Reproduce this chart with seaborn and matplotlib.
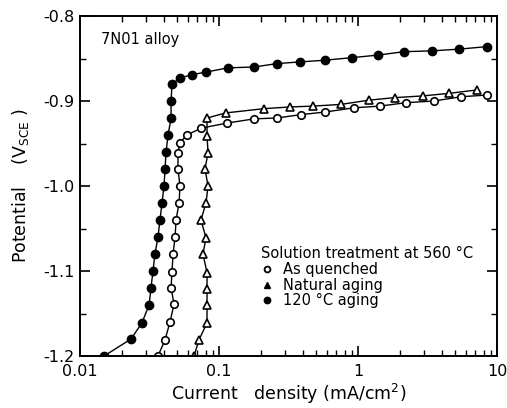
import numpy as np
import pandas as pd
import matplotlib
matplotlib.use("Agg")
import matplotlib.pyplot as plt
import seaborn as sns
from matplotlib.lines import Line2D
from matplotlib.ticker import LogLocator, FixedLocator, MultipleLocator, FixedFormatter

# ---- data (current density mA/cm2, potential V_SCE) ----
aged120_i = [0.0149, 0.0233, 0.0279, 0.0314, 0.0324, 0.0335, 0.0346, 0.0364, 0.0376, 0.0389,
             0.0402, 0.0409, 0.0416, 0.0430, 0.0452, 0.0452, 0.0459, 0.0524, 0.0639, 0.0806,
             0.116, 0.179, 0.261, 0.383, 0.579, 0.905, 1.39, 2.14, 3.41, 5.33, 8.48]
aged120_v = [-1.200, -1.180, -1.161, -1.140, -1.120, -1.100, -1.080, -1.060, -1.040, -1.020,
             -1.000, -0.980, -0.960, -0.940, -0.920, -0.900, -0.880, -0.873, -0.869, -0.866,
             -0.861, -0.860, -0.856, -0.854, -0.852, -0.849, -0.846, -0.842, -0.841, -0.839, -0.836]

quench_i = [0.0364, 0.0409, 0.0444, 0.0475, 0.0452, 0.0459, 0.0467, 0.0483, 0.0491, 0.0516,
            0.0524, 0.0507, 0.0507, 0.0524, 0.0589, 0.0742, 0.114, 0.179, 0.261, 0.39,
            0.579, 0.936, 1.44, 2.21, 3.52, 5.51, 8.48]
quench_v = [-1.200, -1.181, -1.160, -1.139, -1.120, -1.101, -1.080, -1.060, -1.040, -1.020,
            -1.000, -0.980, -0.961, -0.949, -0.940, -0.932, -0.926, -0.921, -0.920, -0.916,
            -0.913, -0.908, -0.906, -0.902, -0.900, -0.895, -0.893]

natural_i = [0.0661, 0.0718, 0.0820, 0.0820, 0.0820, 0.0820, 0.0767, 0.0806, 0.0742, 0.0806,
             0.0834, 0.0793, 0.0834, 0.0820, 0.0820, 0.112, 0.211, 0.324, 0.475, 0.755,
             1.20, 1.85, 2.94, 4.52, 7.18]
natural_v = [-1.200, -1.181, -1.161, -1.140, -1.121, -1.102, -1.080, -1.061, -1.040, -1.020,
             -1.000, -0.980, -0.961, -0.941, -0.920, -0.914, -0.909, -0.907, -0.906, -0.904,
             -0.899, -0.896, -0.894, -0.891, -0.887]

series_labels = ["As quenched", "Natural aging", "120 °C aging"]
x_ticks = [0.01, 0.1, 1, 10]
x_tick_labels = ["0.01", "0.1", "1", "10"]
y_ticks = [-1.2, -1.1, -1.0, -0.9, -0.8]
y_tick_labels = ["-1.2", "-1.1", "-1.0", "-0.9", "-0.8"]

df = pd.concat([
    pd.DataFrame({"i": quench_i, "v": quench_v, "s": series_labels[0]}),
    pd.DataFrame({"i": natural_i, "v": natural_v, "s": series_labels[1]}),
    pd.DataFrame({"i": aged120_i, "v": aged120_v, "s": series_labels[2]}),
], ignore_index=True)

sns.set_style("ticks")
plt.rcParams["font.family"] = ["DejaVu Sans"]
plt.rcParams["axes.unicode_minus"] = False
plt.rcParams["mathtext.default"] = "regular"
for k in ["text.color", "axes.labelcolor", "xtick.color", "ytick.color", "axes.edgecolor"]:
    plt.rcParams[k] = "black"

fig = plt.figure(figsize=(5.07, 4.08), dpi=100)
ax = fig.add_axes([80/507, 1-356/408, 417/507, 340/408])

styles = {
    series_labels[0]: dict(marker="o", mfc="white", ms=5.4),
    series_labels[1]: dict(marker="^", mfc="white", ms=5.2),
    series_labels[2]: dict(marker="o", mfc="black", ms=5.8),
}
for lab in series_labels:
    sub = df[df["s"] == lab]
    st = styles[lab]
    sns.lineplot(data=sub, x="i", y="v", sort=False, estimator=None, ax=ax,
                 color="black", lw=1.0, marker=st["marker"], markersize=st["ms"],
                 markerfacecolor=st["mfc"], markeredgecolor="black", markeredgewidth=1.2,
                 legend=False)

ax.set_xscale("log")
ax.set_xlim(0.01, 10)
ax.set_ylim(-1.2, -0.8)
ax.xaxis.set_major_locator(FixedLocator(x_ticks))
ax.xaxis.set_major_formatter(FixedFormatter(x_tick_labels))
ax.xaxis.set_minor_locator(LogLocator(base=10, subs=np.arange(2, 10)))
ax.xaxis.set_minor_formatter(matplotlib.ticker.NullFormatter())
ax.yaxis.set_major_locator(FixedLocator(y_ticks))
ax.yaxis.set_major_formatter(FixedFormatter(y_tick_labels))
ax.yaxis.set_minor_locator(MultipleLocator(0.05))

ax.tick_params(which="both", direction="in", top=True, right=True, color="black")
ax.tick_params(which="major", length=7, width=1.2, labelsize=11.5)
ax.tick_params(axis="x", which="major", pad=6)
ax.tick_params(axis="y", which="major", pad=4)
ax.tick_params(which="minor", length=4, width=1.0)
for sp in ax.spines.values():
    sp.set_linewidth(1.4)
    sp.set_color("black")

ax.set_xlabel("Current   density (mA/cm$^2$)", fontsize=12.5, labelpad=2)
ax.set_ylabel("Potential    (V$_{SCE}$ )", fontsize=12.5, labelpad=9)

ax.text(0.05, 0.93, "7N01 alloy", transform=ax.transAxes, fontsize=10.5, va="center", ha="left")

handles = [
    Line2D([], [], ls="none", marker="o", mfc="white", mec="black", mew=1.3, ms=4.2),
    Line2D([], [], ls="none", marker="^", mfc="black", mec="black", mew=1.0, ms=4.2),
    Line2D([], [], ls="none", marker="o", mfc="black", mec="black", mew=1.0, ms=4.6),
]
leg = ax.legend(handles, series_labels, title="Solution treatment at 560 °C",
                loc="upper left", bbox_to_anchor=(0.42, 0.34), frameon=False,
                fontsize=10.5, title_fontsize=10.5, handlelength=0.8,
                handletextpad=0.7, labelspacing=0.05, borderaxespad=0.0)
leg._legend_box.align = "left"

fig.savefig("out.png", dpi=100)
